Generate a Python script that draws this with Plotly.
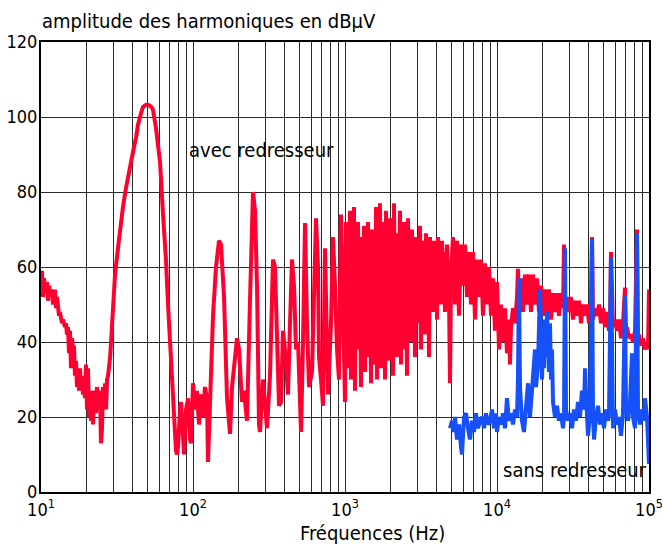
import plotly.graph_objects as go

# ---------------- data ----------------
# Red trace "avec redresseur", split in frequency segments
red_f_a = [10.0, 10.15, 10.31, 10.46, 10.79, 10.95, 11.12, 11.29, 11.63, 11.81,
           11.99, 12.36, 12.55, 12.74, 13.13, 13.33, 13.74, 13.95, 14.38, 14.60,
           14.82, 15.05, 15.28, 15.51, 15.75, 15.99, 16.23, 16.48, 16.73, 16.99,
           17.25, 17.51, 17.78, 18.05, 18.33, 18.61, 18.89, 19.18, 19.47, 19.77,
           20.07, 20.38, 20.69, 21.01, 21.33, 21.65, 21.98, 22.32, 22.66, 23.0,
           23.35, 23.71, 24.07, 24.44, 24.8, 25.2, 25.6, 26.0, 26.4, 26.8,
           27.2, 27.6]
red_db_a = [55, 59, 52, 57, 53, 56, 51, 55, 52, 54,
            50, 54, 49, 52, 47, 48, 45, 46, 44, 45,
            42, 44, 37, 43, 33, 41, 38, 39, 31, 35,
            28, 32, 27, 33, 28, 30, 26, 31, 25, 34,
            22, 33, 20, 27, 19, 23, 18, 27, 26, 21,
            28, 26, 22, 27, 13, 17, 28, 24, 29, 22,
            30, 31]

red_f_b = [28.5, 28.9, 29.8, 30.7, 32.1, 33.1, 34.6, 36.2, 37.3, 39.1,
           40.9, 42.2, 43.5, 45.5, 46.9, 49.1, 50.6, 52.9, 54.5, 57.1,
           58.9, 60.7, 63.5, 65.4, 66.4, 68.5, 70.6, 71.7, 73.9, 75.0,
           77.3, 78.5, 79.7, 82.2, 83.4, 86.0, 87.3, 90.0, 91.4, 92.8,
           95.6, 97.0, 100.0]
red_db_b = [36, 40, 50, 58, 65, 70, 76, 81, 84, 88,
            92, 94.5, 98, 101, 102.7, 103.3, 103.3, 102.8, 102, 97,
            92, 88, 74, 67, 62, 50, 39, 33, 25, 22,
            11, 10, 12, 22, 24, 15, 10, 22, 24, 25,
            14, 13, 29]

red_f_c = [103.1, 106.2, 109.5, 112.9, 116.3, 119.9, 123.6, 125.5, 129.3, 135.4,
           141.7, 148.3, 152.8, 160.0, 167.4, 175.2, 180.6, 189.0, 194.8, 200.8,
           210.1, 216.5, 226.6, 237.1, 248.2, 255.8, 263.7, 271.8, 276.0, 288.8,
           297.7, 306.8, 321.1, 336.0, 346.3, 357.0, 368.0, 379.3, 391.0, 403.0,
           421.7, 434.7, 448.1, 461.9, 476.1, 490.8, 513.6, 529.4, 545.7, 562.3,
           579.7, 606.7, 625.3, 644.6, 664.4, 674.5, 695.2, 716.6, 738.7, 749.9,
           773.0, 809.0, 833.9, 859.5, 885.9, 913.2, 941.2, 970.1, 1000.0]
red_db_c = [22, 27, 18, 26, 20, 28, 25, 8, 22, 47,
            60, 67, 66, 52, 25, 15.5, 28, 37, 41, 38,
            24, 27, 19, 51, 80, 75, 55, 18, 16, 30,
            22, 17, 31, 62, 60, 45, 23, 24, 43, 38,
            26, 45, 62, 55, 38, 40, 16, 40, 71.7, 45,
            28, 32, 50, 73, 60, 36, 30, 23, 65, 50,
            26, 45, 68, 55, 38, 30, 74, 50, 24]

# dense part 1 kHz - 4.5 kHz
red_f_d1 = [1015, 1031, 1046, 1062, 1079, 1095, 1112, 1129, 1146, 1163,
            1181, 1199, 1217, 1236, 1255, 1274, 1293, 1313, 1333, 1354,
            1374, 1395, 1417, 1438, 1460, 1483, 1505, 1528, 1552, 1575,
            1600, 1624, 1649, 1674, 1699, 1725, 1752, 1778, 1806, 1833,
            1861, 1890, 1918, 1948, 1977, 2008, 2038, 2069, 2101, 2132,
            2165, 2198, 2232, 2266, 2300, 2336, 2371, 2407, 2444, 2482,
            2519, 2558, 2597, 2637, 2677, 2718, 2759, 2802, 2844, 2888,
            2932, 2977, 3022, 3068, 3115, 3162, 3211, 3260, 3310, 3360,
            3412, 3463, 3517, 3570, 3625, 3680, 3736, 3793, 3851, 3910,
            3970, 4030, 4092, 4154, 4217, 4282, 4347, 4414, 4481, 4550]
red_db_d1 = [72, 33, 66, 40, 75, 30, 62, 45, 76, 27,
             70, 38, 72, 50, 60, 28, 68, 42, 71, 32,
             58, 36, 72, 48, 63, 29, 70, 44, 55, 34,
             76, 30, 64, 46, 77, 33, 60, 40, 72, 30,
             75, 52, 66, 35, 73, 42, 61, 31, 77, 45,
             69, 36, 64, 50, 75, 34, 58, 44, 72, 38,
             66, 31, 73, 48, 62, 40, 70, 52, 65, 36,
             68, 45, 60, 50, 71, 38, 65, 54, 67, 42,
             69, 56, 64, 36, 68, 52, 62, 48, 67, 55,
             66, 46, 68, 54, 65, 50, 67, 56, 64, 48]

# 4.5 kHz - 10 kHz
red_f_d2 = [4690, 4834, 4908, 4983, 5136, 5294, 5457, 5623, 5797, 5975,
            6159, 6348, 6544, 6745, 6952, 7166, 7387, 7614, 7848, 8090,
            8339, 8595, 8859, 9132, 9412, 9701, 10000]
red_db_d2 = [66, 52, 29, 58, 68, 50, 67, 47, 66, 55,
             66, 52, 64, 50, 64, 46, 62, 52, 62, 47,
             61, 50, 60, 47, 57, 43, 56]

red_f_e = [10310, 10620, 10950, 11290, 11630, 11990, 12170, 12360, 12740, 13130,
           13540, 13740, 13950, 14380, 14830, 15280, 15750, 16240, 16740, 17250,
           17780, 18330, 18900, 19480, 20080, 20690, 21330, 21980, 22660, 23360,
           24070, 24820, 25580, 26370, 27180, 27600, 28020, 28880, 29770, 30680,
           31620, 32600, 33600, 34630, 35700, 36800, 37930, 39100, 40300, 41540,
           42180, 42820, 44140, 45500, 46900, 48340, 49830, 51360, 52940, 54570,
           55400, 56230, 57100, 57970, 59750, 61590, 63480, 65440, 67450, 69520,
           70580, 71660, 73870, 76140, 78480, 80900, 83390, 84660, 85950, 88590,
           91320, 94120, 97010, 98490, 100000]
red_db_e = [38, 50, 40, 49, 37, 46, 34, 44, 49, 45,
            52, 59.5, 50, 57, 48, 58, 50, 58, 48, 58,
            50, 57, 48, 55, 47, 54, 48, 54, 46, 53,
            48, 53, 47, 53, 49, 66, 50, 52, 48, 52,
            46, 51, 47, 51, 45, 50, 47, 50, 45, 49,
            68, 46, 49, 47, 50, 45, 49, 44, 48, 43,
            46, 64, 45, 44, 46, 43, 46, 41, 45, 54.5,
            43, 44, 41, 42, 40, 43, 70, 41, 42, 39,
            41, 38, 40, 38, 54]

# Blue trace "sans redresseur"
blue_f = [4908, 5058, 5214, 5294, 5457, 5623, 5797, 5886, 6067, 6253,
          6445, 6643, 6848, 7058, 7276, 7499, 7730, 7968, 8213, 8466,
          8726, 8995, 9272, 9557, 9850, 10000, 10310, 10620, 10950, 11290,
          11630, 11990, 12360, 12740, 13130, 13540, 13740, 13950, 14170, 14600,
          15050, 15520, 16000, 16490, 16990, 17520, 17780, 18060, 18610, 19180,
          19480, 19770, 20080, 20380, 20690, 21010, 21330, 21650, 21980, 22320,
          22660, 23000, 23360, 24070, 24820, 25580, 26370, 27180, 27600, 28020,
          28450, 29320, 30220, 31150, 32110, 33100, 34110, 35160, 36240, 37350,
          37930, 38510, 39700, 40920, 42180, 42820, 43480, 44810, 46190, 47610,
          49080, 50580, 52140, 53750, 54570, 56230, 57100, 57970, 59750, 61590,
          63480, 65440, 67450, 69520, 70580, 72760, 74990, 77300, 78480, 80900,
          83390, 84660, 87260, 89950, 92720, 94120, 97010, 100000]
blue_db = [17, 19, 16, 20, 14, 18, 12, 10, 20, 21,
           17, 14, 19, 16, 21, 17, 19, 20, 17, 21,
           18, 19, 22, 17, 21, 16, 20, 18, 21, 17,
           25, 19, 21, 18, 22, 20, 30, 57, 28, 19,
           16, 22, 29, 20, 26, 35, 38, 28, 34, 54,
           36, 30, 40, 33, 46, 36, 48, 40, 32, 45,
           30, 38, 24, 20, 23, 19, 21, 17, 20, 65,
           22, 19, 21, 17, 22, 19, 24, 20, 27, 22,
           33, 26, 15, 21, 67.5, 20, 14, 20, 23, 18,
           21, 17, 22, 19, 21, 62.5, 20, 17, 22, 18,
           20, 15, 21, 52.5, 22, 19, 24, 37, 20, 17,
           69, 21, 18, 22, 19, 25, 20, 7.5]

major_ticks = [10, 100, 1000, 10000, 100000]
major_labels = ["10<sup>1</sup>", "10<sup>2</sup>", "10<sup>3</sup>",
                "10<sup>4</sup>", "10<sup>5</sup>"]
minor_ticks = [m * d for d in (10, 100, 1000, 10000) for m in range(2, 10)]
y_ticks = [0, 20, 40, 60, 80, 100, 120]

# ---------------- figure ----------------
FONT = "DejaVu Sans Condensed, DejaVu Sans, sans-serif"
RED = "#FF0030"
BLUE = "#1550F8"

red_f = red_f_a + red_f_b + red_f_c + red_f_d1 + red_f_d2 + red_f_e
red_db = red_db_a + red_db_b + red_db_c + red_db_d1 + red_db_d2 + red_db_e

fig = go.Figure()
fig.add_trace(go.Scatter(x=red_f, y=red_db, mode="lines",
                         line=dict(color=RED, width=4), hoverinfo="skip"))
fig.add_trace(go.Scatter(x=blue_f, y=blue_db, mode="lines",
                         line=dict(color=BLUE, width=4), hoverinfo="skip"))

grid_col = "#2a2a2a"
fig.update_xaxes(type="log", range=[1, 5], tickmode="array",
                 tickvals=major_ticks, ticktext=major_labels,
                 showgrid=True, gridcolor=grid_col, gridwidth=1,
                 showline=True, mirror=True, linecolor="black", linewidth=2,
                 zeroline=False, ticks="", automargin=False,
                 tickfont=dict(family=FONT, size=18, color="black"),
                 minor=dict(tickmode="array", tickvals=minor_ticks,
                            showgrid=True, gridcolor=grid_col, gridwidth=1))
fig.update_yaxes(range=[0, 120], tickmode="array", tickvals=y_ticks,
                 showgrid=True, gridcolor=grid_col, gridwidth=1,
                 showline=True, mirror=True, linecolor="black", linewidth=2,
                 zeroline=False, ticks="", automargin=False,
                 ticklabelstandoff=-2,
                 tickfont=dict(family=FONT, size=18, color="black"))

ann_font = dict(family=FONT, size=20, color="black")
fig.update_layout(
    width=663, height=545,
    margin=dict(l=41, r=14, t=42, b=53),
    plot_bgcolor="white", paper_bgcolor="white",
    showlegend=False,
    font=dict(family=FONT, color="black"),
    annotations=[
        dict(text="amplitude des harmoniques en dBµV", xref="paper", yref="paper",
             x=-0.002, y=1.046, xanchor="left", yanchor="middle",
             showarrow=False, font=ann_font),
        dict(text="avec redresseur", xref="paper", yref="paper",
             x=0.3627, y=0.76, xanchor="center", yanchor="middle",
             showarrow=False, font=ann_font),
        dict(text="sans redresseur", xref="paper", yref="paper",
             x=0.878, y=0.048, xanchor="center", yanchor="middle",
             showarrow=False, font=ann_font),
        dict(text="Fréquences (Hz)", xref="paper", yref="paper",
             x=0.546, y=-0.09, xanchor="center", yanchor="middle",
             showarrow=False, font=ann_font),
    ],
)

fig.write_html("out.html")
